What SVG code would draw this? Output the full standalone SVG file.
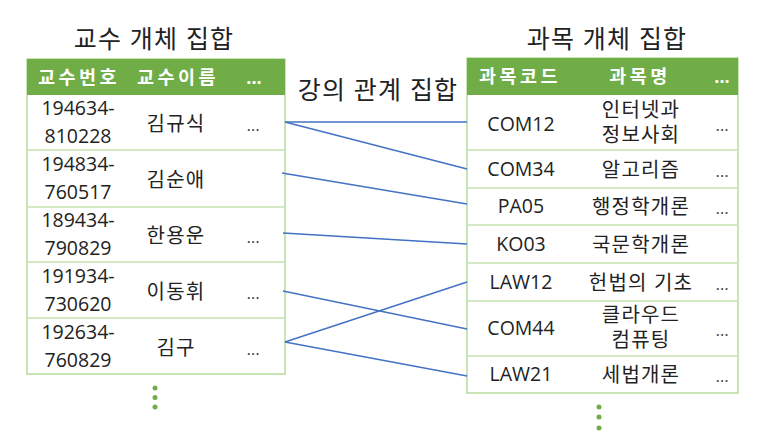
<svg xmlns="http://www.w3.org/2000/svg" width="757" height="438" viewBox="0 0 757 438">
<style>
text{font-family:"Open Sans","Noto Sans CJK KR",sans-serif;fill:#222;}
.title{font-size:25px;text-anchor:middle;letter-spacing:1.2px;}
.hd{font-size:18.5px;font-weight:bold;fill:#fff;text-anchor:middle;letter-spacing:3.5px;}
.hdd{font-size:18px;font-weight:bold;fill:#fff;text-anchor:middle;}
.cell{font-size:19.5px;text-anchor:middle;}
.ko{font-size:20px;letter-spacing:1.2px;}
.dots{font-size:17px;text-anchor:middle;fill:#444;}
.tbl{fill:#fff;stroke:#B7DB9E;stroke-width:1.5;}
.sep{stroke:#C5E3B0;stroke-width:1.5;}
.head{fill:#70AD47;}
.conn line{stroke:#4472C4;stroke-width:1.5;}
.vd{fill:#70AD47;}
</style>

<g id="professor-set">
<text class="title" x="154" y="48">교수 개체 집합</text>
<rect class="tbl" x="27" y="59" width="258" height="315"/>
<rect class="head" x="27" y="59" width="258" height="36"/>
<text class="hd" x="79" y="84">교수번호</text>
<text class="hd" x="178" y="84">교수이름</text>
<text class="hdd" x="254" y="84">...</text>
<line class="sep" x1="27" y1="150" x2="285" y2="150"/>
<line class="sep" x1="27" y1="207" x2="285" y2="207"/>
<line class="sep" x1="27" y1="262" x2="285" y2="262"/>
<line class="sep" x1="27" y1="318" x2="285" y2="318"/>
</g>

<g id="prof-row1">
<text class="cell" x="78" y="115">194634-</text>
<text class="cell" x="78" y="143">810228</text>
<text class="cell ko" x="176" y="131">김규식</text>
<text class="dots" x="253" y="131">…</text>
</g>
<g id="prof-row2">
<text class="cell" x="78" y="171">194834-</text>
<text class="cell" x="78" y="199">760517</text>
<text class="cell ko" x="176" y="187">김순애</text>
</g>
<g id="prof-row3">
<text class="cell" x="78" y="227">189434-</text>
<text class="cell" x="78" y="255">790829</text>
<text class="cell ko" x="176" y="243">한용운</text>
<text class="dots" x="253" y="243">…</text>
</g>
<g id="prof-row4">
<text class="cell" x="78" y="283">191934-</text>
<text class="cell" x="78" y="311">730620</text>
<text class="cell ko" x="176" y="299">이동휘</text>
<text class="dots" x="253" y="299">…</text>
</g>
<g id="prof-row5">
<text class="cell" x="78" y="339">192634-</text>
<text class="cell" x="78" y="367">760829</text>
<text class="cell ko" x="176" y="355">김구</text>
<text class="dots" x="253" y="355">…</text>
</g>
<g id="prof-more">
<circle class="vd" cx="155" cy="388" r="2.5"/>
<circle class="vd" cx="155" cy="397.5" r="2.5"/>
<circle class="vd" cx="155" cy="407" r="2.5"/>
</g>

<g id="relation-label">
<text class="title" x="378" y="99">강의 관계 집합</text>
</g>

<g id="course-set">
<text class="title" x="607" y="48">과목 개체 집합</text>
<rect class="tbl" x="467" y="58" width="271" height="335"/>
<rect class="head" x="467" y="58" width="271" height="37"/>
<text class="hd" x="520" y="83">과목코드</text>
<text class="hd" x="640" y="83">과목명</text>
<text class="hdd" x="722" y="83">...</text>
<line class="sep" x1="467" y1="150" x2="738" y2="150"/>
<line class="sep" x1="467" y1="188" x2="738" y2="188"/>
<line class="sep" x1="467" y1="225" x2="738" y2="225"/>
<line class="sep" x1="467" y1="263" x2="738" y2="263"/>
<line class="sep" x1="467" y1="301" x2="738" y2="301"/>
<line class="sep" x1="467" y1="356" x2="738" y2="356"/>
</g>

<g id="course-row1">
<text class="cell" x="521" y="131">COM12</text>
<text class="cell ko" x="641" y="117">인터넷과</text>
<text class="cell ko" x="641" y="142">정보사회</text>
<text class="dots" x="722" y="131">…</text>
</g>
<g id="course-row2">
<text class="cell" x="521" y="176">COM34</text>
<text class="cell ko" x="641" y="177">알고리즘</text>
<text class="dots" x="722" y="177">…</text>
</g>
<g id="course-row3">
<text class="cell" x="521" y="213">PA05</text>
<text class="cell ko" x="641" y="214">행정학개론</text>
<text class="dots" x="722" y="214">…</text>
</g>
<g id="course-row4">
<text class="cell" x="521" y="251">KO03</text>
<text class="cell ko" x="641" y="252">국문학개론</text>
</g>
<g id="course-row5">
<text class="cell" x="521" y="289">LAW12</text>
<text class="cell ko" x="641" y="290">헌법의 기초</text>
<text class="dots" x="722" y="290">…</text>
</g>
<g id="course-row6">
<text class="cell" x="521" y="335">COM44</text>
<text class="cell ko" x="641" y="322">클라우드</text>
<text class="cell ko" x="641" y="347">컴퓨팅</text>
<text class="dots" x="722" y="336">…</text>
</g>
<g id="course-row7">
<text class="cell" x="521" y="381">LAW21</text>
<text class="cell ko" x="641" y="382">세법개론</text>
<text class="dots" x="722" y="382">…</text>
</g>
<g id="course-more">
<circle class="vd" cx="599" cy="407" r="2.5"/>
<circle class="vd" cx="599" cy="417" r="2.5"/>
<circle class="vd" cx="599" cy="428" r="2.5"/>
</g>

<g id="connectors" class="conn">
<line x1="285" y1="122" x2="467" y2="122"/>
<line x1="285" y1="122" x2="467" y2="169"/>
<line x1="282" y1="173" x2="467" y2="204"/>
<line x1="283" y1="233" x2="467" y2="244"/>
<line x1="283" y1="291" x2="467" y2="329"/>
<line x1="285" y1="342" x2="467" y2="282"/>
<line x1="285" y1="342" x2="467" y2="376"/>
</g>
</svg>
